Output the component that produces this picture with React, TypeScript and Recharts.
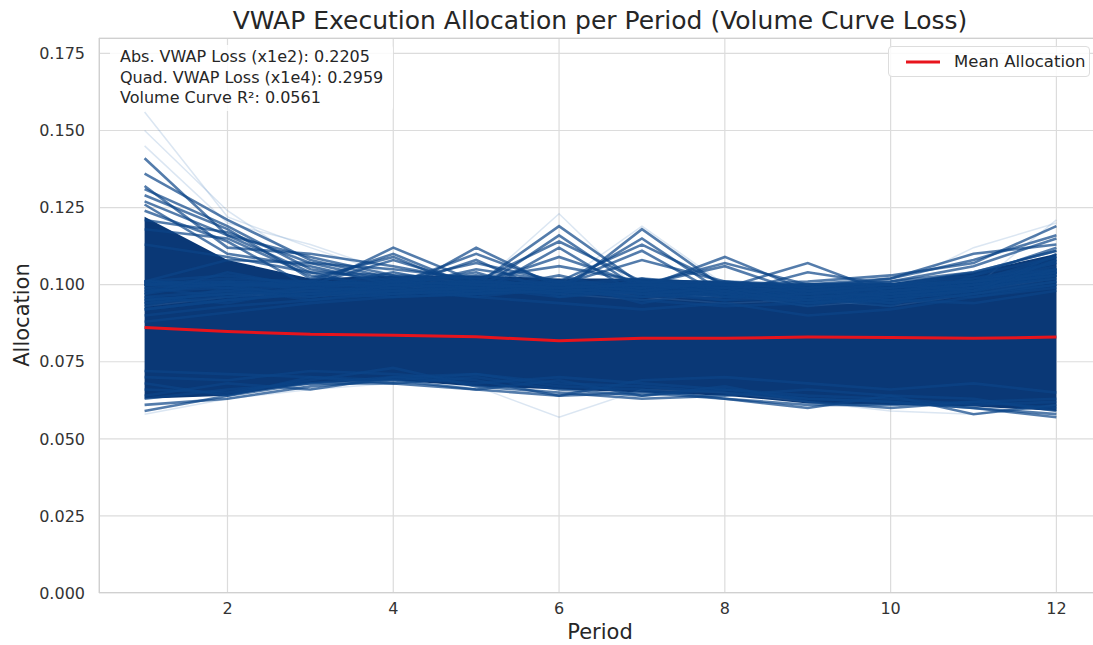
import { ComposedChart, Line, Area, XAxis, YAxis, CartesianGrid } from "recharts";

const periods = [1, 2, 3, 4, 5, 6, 7, 8, 9, 10, 11, 12];
const xTicks = [2, 4, 6, 8, 10, 12];
const yTicks = [0, 0.025, 0.05, 0.075, 0.1, 0.125, 0.15, 0.175];

const meanAllocation = [0.0861, 0.0848, 0.0839, 0.0836, 0.0831, 0.0818, 0.0826, 0.0826, 0.083, 0.0829, 0.0826, 0.083];

// dense body of the allocation paths
const coreLow = [0.063, 0.064, 0.068, 0.069, 0.067, 0.066, 0.065, 0.064, 0.0615, 0.061, 0.0605, 0.059];
const coreHigh = [0.122, 0.108, 0.102, 0.103, 0.103, 0.102, 0.102, 0.101, 0.1, 0.1005, 0.104, 0.11];

const upperPaths = [
  [0.141, 0.116, 0.104, 0.098, 0.096, 0.094, 0.092, 0.094, 0.09, 0.092, 0.096, 0.1],
  [0.136, 0.121, 0.108, 0.102, 0.097, 0.099, 0.095, 0.093, 0.094, 0.095, 0.099, 0.104],
  [0.132, 0.112, 0.11, 0.106, 0.101, 0.097, 0.1, 0.098, 0.095, 0.097, 0.1, 0.108],
  [0.129, 0.118, 0.102, 0.109, 0.098, 0.103, 0.097, 0.095, 0.099, 0.094, 0.101, 0.106],
  [0.126, 0.11, 0.106, 0.1, 0.104, 0.096, 0.102, 0.097, 0.093, 0.098, 0.097, 0.11],
  [0.124, 0.114, 0.099, 0.104, 0.099, 0.101, 0.094, 0.099, 0.096, 0.093, 0.103, 0.112],
  [0.131, 0.119, 0.105, 0.101, 0.1, 0.098, 0.096, 0.097, 0.095, 0.096, 0.098, 0.105],
  [0.127, 0.116, 0.109, 0.103, 0.097, 0.1, 0.099, 0.096, 0.098, 0.097, 0.102, 0.107],
  [0.121, 0.117, 0.107, 0.105, 0.102, 0.099, 0.101, 0.1, 0.097, 0.099, 0.101, 0.109],
  [0.118, 0.115, 0.103, 0.099, 0.105, 0.101, 0.098, 0.1, 0.099, 0.1, 0.104, 0.111],
  [0.097, 0.101, 0.098, 0.099, 0.108, 0.096, 0.099, 0.096, 0.097, 0.095, 0.098, 0.101],
  [0.094, 0.098, 0.1, 0.097, 0.112, 0.099, 0.097, 0.099, 0.095, 0.097, 0.096, 0.099],
  [0.1, 0.099, 0.101, 0.1, 0.11, 0.1, 0.1, 0.098, 0.098, 0.099, 0.1, 0.104],
  [0.101, 0.1, 0.099, 0.101, 0.107, 0.101, 0.1, 0.099, 0.1, 0.1, 0.101, 0.105],
  [0.099, 0.096, 0.097, 0.101, 0.098, 0.116, 0.098, 0.095, 0.096, 0.094, 0.097, 0.1],
  [0.093, 0.099, 0.095, 0.098, 0.1, 0.119, 0.1, 0.097, 0.094, 0.096, 0.099, 0.102],
  [0.096, 0.094, 0.099, 0.096, 0.097, 0.112, 0.096, 0.1, 0.098, 0.095, 0.094, 0.098],
  [0.101, 0.1, 0.1, 0.102, 0.101, 0.114, 0.101, 0.099, 0.098, 0.098, 0.1, 0.103],
  [0.1, 0.101, 0.101, 0.1, 0.1, 0.109, 0.1, 0.1, 0.099, 0.1, 0.101, 0.104],
  [0.098, 0.1, 0.096, 0.099, 0.096, 0.099, 0.115, 0.097, 0.099, 0.096, 0.098, 0.103],
  [0.095, 0.097, 0.099, 0.097, 0.099, 0.097, 0.118, 0.099, 0.095, 0.098, 0.1, 0.105],
  [0.092, 0.095, 0.097, 0.1, 0.098, 0.1, 0.111, 0.096, 0.097, 0.094, 0.097, 0.101],
  [0.1, 0.101, 0.1, 0.099, 0.1, 0.101, 0.113, 0.1, 0.099, 0.099, 0.101, 0.104],
  [0.101, 0.1, 0.101, 0.1, 0.101, 0.1, 0.108, 0.101, 0.1, 0.1, 0.102, 0.105],
  [0.1, 0.102, 0.101, 0.11, 0.099, 0.096, 0.098, 0.097, 0.096, 0.097, 0.099, 0.102],
  [0.097, 0.104, 0.099, 0.112, 0.101, 0.098, 0.096, 0.098, 0.094, 0.096, 0.098, 0.104],
  [0.101, 0.103, 0.1, 0.108, 0.1, 0.1, 0.099, 0.1, 0.099, 0.098, 0.1, 0.103],
  [0.095, 0.097, 0.098, 0.099, 0.097, 0.101, 0.099, 0.109, 0.098, 0.096, 0.1, 0.103],
  [0.098, 0.099, 0.097, 0.096, 0.1, 0.098, 0.1, 0.106, 0.097, 0.099, 0.101, 0.107],
  [0.1, 0.1, 0.1, 0.1, 0.101, 0.1, 0.1, 0.107, 0.1, 0.1, 0.101, 0.104],
  [0.094, 0.096, 0.099, 0.098, 0.097, 0.099, 0.097, 0.099, 0.107, 0.097, 0.099, 0.105],
  [0.096, 0.098, 0.096, 0.1, 0.099, 0.097, 0.101, 0.097, 0.104, 0.1, 0.098, 0.108],
  [0.09, 0.093, 0.095, 0.097, 0.098, 0.099, 0.1, 0.099, 0.1, 0.102, 0.108, 0.116],
  [0.088, 0.091, 0.094, 0.096, 0.097, 0.098, 0.099, 0.1, 0.101, 0.103, 0.107, 0.119],
  [0.092, 0.095, 0.097, 0.098, 0.099, 0.1, 0.098, 0.101, 0.099, 0.102, 0.11, 0.113],
  [0.099, 0.1, 0.1, 0.101, 0.1, 0.099, 0.1, 0.1, 0.1, 0.101, 0.106, 0.115],
  [0.101, 0.108, 0.107, 0.101, 0.103, 0.1, 0.102, 0.1, 0.099, 0.101, 0.104, 0.111],
  [0.113, 0.109, 0.104, 0.103, 0.102, 0.106, 0.101, 0.101, 0.098, 0.1, 0.103, 0.109],
];

const lowerPaths = [
  [0.061, 0.063, 0.067, 0.069, 0.066, 0.064, 0.065, 0.063, 0.061, 0.061, 0.062, 0.06],
  [0.063, 0.066, 0.068, 0.068, 0.07, 0.066, 0.064, 0.066, 0.063, 0.062, 0.06, 0.058],
  [0.059, 0.064, 0.068, 0.07, 0.068, 0.07, 0.068, 0.066, 0.064, 0.063, 0.061, 0.062],
  [0.07, 0.069, 0.072, 0.071, 0.069, 0.064, 0.069, 0.07, 0.068, 0.066, 0.068, 0.065],
  [0.072, 0.071, 0.07, 0.069, 0.071, 0.068, 0.067, 0.065, 0.063, 0.062, 0.06, 0.057],
  [0.066, 0.065, 0.069, 0.073, 0.067, 0.065, 0.063, 0.064, 0.066, 0.064, 0.058, 0.061],
  [0.064, 0.068, 0.066, 0.07, 0.071, 0.067, 0.066, 0.063, 0.06, 0.064, 0.063, 0.059],
  [0.068, 0.064, 0.07, 0.068, 0.066, 0.069, 0.064, 0.067, 0.062, 0.06, 0.062, 0.063],
];

const faintPaths = [
  [0.156, 0.122, 0.112, 0.103, 0.099, 0.097, 0.095, 0.097, 0.093, 0.095, 0.098, 0.102],
  [0.15, 0.124, 0.106, 0.1, 0.097, 0.1, 0.096, 0.094, 0.095, 0.093, 0.097, 0.101],
  [0.145, 0.12, 0.113, 0.104, 0.1, 0.098, 0.097, 0.096, 0.096, 0.097, 0.1, 0.104],
  [0.058, 0.063, 0.066, 0.068, 0.067, 0.057, 0.066, 0.065, 0.062, 0.059, 0.058, 0.061],
  [0.093, 0.096, 0.098, 0.097, 0.099, 0.123, 0.097, 0.096, 0.095, 0.097, 0.099, 0.121],
  [0.095, 0.097, 0.096, 0.098, 0.097, 0.1, 0.119, 0.1, 0.097, 0.099, 0.112, 0.12],
];

const rows = periods.map((p, i) => {
  const row: Record<string, any> = { period: p, mean: meanAllocation[i], core: [coreLow[i], coreHigh[i]] };
  upperPaths.forEach((s, k) => (row[`u${k}`] = s[i]));
  lowerPaths.forEach((s, k) => (row[`l${k}`] = s[i]));
  faintPaths.forEach((s, k) => (row[`f${k}`] = s[i]));
  return row;
});

const NAVY = "#0a3876";
const EDGE = "#0c4588";
const font = "'DejaVu Sans', sans-serif";

export default function App() {
  return (
    <div style={{ position: "absolute", left: 0, top: 0, width: 1093, height: 645, overflow: "hidden", background: "#fff", fontFamily: font, color: "#262626" }}>
      <ComposedChart width={1110} height={645} data={rows} margin={{ top: 38, right: 8, bottom: 0, left: 0 }}>
        <CartesianGrid stroke="#dcdcdc" strokeWidth={1.2} />
        <XAxis
          dataKey="period"
          type="number"
          domain={[0.45, 12.55]}
          ticks={xTicks}
          allowDataOverflow
          axisLine={false}
          tickLine={false}
          tickSize={0}
          tickMargin={10}
          height={52}
          tick={{ fontSize: 16, fill: "#333", fontFamily: font }}
        />
        <YAxis
          type="number"
          domain={[0, 0.18]}
          ticks={yTicks}
          tickFormatter={(v: number) => v.toFixed(3)}
          allowDataOverflow
          axisLine={false}
          tickLine={false}
          tickSize={0}
          tickMargin={14}
          width={99}
          tick={{ fontSize: 16, fill: "#333", fontFamily: font }}
        />
        <Area type="linear" dataKey="core" fill={NAVY} fillOpacity={1} stroke="none" isAnimationActive={false} />
        {faintPaths.map((_, k) => (
          <Line key={`f${k}`} type="linear" dataKey={`f${k}`} stroke="#5b8bc4" strokeOpacity={0.22} strokeWidth={1.5} dot={false} isAnimationActive={false} />
        ))}
        {upperPaths.map((_, k) => (
          <Line key={`u${k}`} type="linear" dataKey={`u${k}`} stroke={EDGE} strokeOpacity={0.7} strokeWidth={2.6} dot={false} isAnimationActive={false} />
        ))}
        {lowerPaths.map((_, k) => (
          <Line key={`l${k}`} type="linear" dataKey={`l${k}`} stroke={EDGE} strokeOpacity={0.7} strokeWidth={2.6} dot={false} isAnimationActive={false} />
        ))}
        <Line type="linear" dataKey="mean" stroke="#e8141c" strokeWidth={3} dot={false} isAnimationActive={false} />
      </ComposedChart>

      <div style={{ position: "absolute", left: 99, top: 38, width: 1002, height: 555, border: "1.2px solid #d0d0d0", boxSizing: "border-box", pointerEvents: "none" }} />

      <div style={{ position: "absolute", left: 600, top: 6, transform: "translateX(-50%)", whiteSpace: "nowrap", fontSize: 25, lineHeight: "30px" }}>
        VWAP Execution Allocation per Period (Volume Curve Loss)
      </div>
      <div style={{ position: "absolute", left: 600, top: 621, transform: "translateX(-50%)", fontSize: 21, lineHeight: "22px" }}>Period</div>
      <div style={{ position: "absolute", left: 22, top: 315, transform: "translate(-50%, -50%) rotate(-90deg)", fontSize: 21, lineHeight: "24px", whiteSpace: "nowrap" }}>
        Allocation
      </div>

      <div style={{ position: "absolute", left: 110, top: 45, padding: "2px 10px", fontSize: 16, lineHeight: "20.5px", background: "rgba(255,255,255,0.85)", borderRadius: 4 }}>
        <div>Abs. VWAP Loss (x1e2): 0.2205</div>
        <div>Quad. VWAP Loss (x1e4): 0.2959</div>
        <div>Volume Curve R²: 0.0561</div>
      </div>

      <div style={{ position: "absolute", left: 888, top: 46, width: 202, height: 31, boxSizing: "border-box", border: "1px solid #dddddd", borderRadius: 4, background: "rgba(255,255,255,0.85)", display: "flex", alignItems: "center", fontSize: 16.5 }}>
        <svg width={34} height={4} style={{ marginLeft: 17, marginRight: 14 }}>
          <line x1={0} y1={2} x2={34} y2={2} stroke="#e8141c" strokeWidth={3} />
        </svg>
        <span>Mean Allocation</span>
      </div>
    </div>
  );
}
